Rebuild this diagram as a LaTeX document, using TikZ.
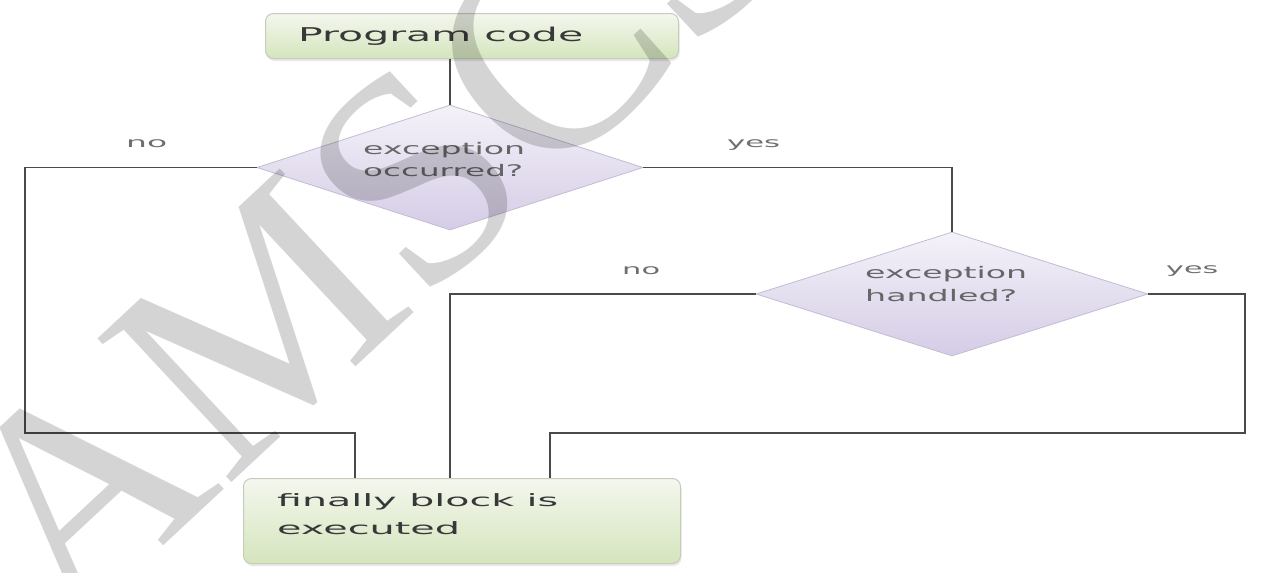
\documentclass[tikz,border=0pt]{standalone}
\usepackage{fontspec}
\setmainfont{DejaVu Sans}
\newfontfamily\wmfont{Liberation Serif}
\usetikzlibrary{shapes.geometric,shadows}
\newcommand{\wt}[2]{\resizebox{#1}{\height}{#2}}
\definecolor{boxtop}{HTML}{F4F7EE}
\definecolor{boxbot}{HTML}{D5E5BD}
\definecolor{boxedge}{HTML}{C4CCBA}
\definecolor{diatop}{HTML}{F4F2F9}
\definecolor{diabot}{HTML}{D5CCE6}
\definecolor{diaedge}{HTML}{C2BCD2}
\definecolor{linec}{HTML}{4A4A4A}
\definecolor{diatext}{HTML}{666666}
\definecolor{labtext}{HTML}{6E6E6E}
\definecolor{boxtext}{HTML}{383838}
\begin{document}
\begin{tikzpicture}[x=1pt,y=-1pt,
  box/.style={rectangle, rounded corners=8pt, draw=boxedge, line width=1pt,
    top color=boxtop, bottom color=boxbot, inner sep=0pt,
    drop shadow={opacity=0.18, shadow xshift=1pt, shadow yshift=-2.5pt}},
  dia/.style={diamond, draw=diaedge, line width=0.8pt, top color=diatop,
    bottom color=diabot, inner sep=0pt},
  conn/.style={draw=linec, line width=1.6pt},
  txt/.style={inner sep=0pt, anchor=base west},
  wm/.style={inner sep=0pt, text=black, text opacity=0.17, font=\wmfont}
]
\useasboundingbox (0,0) rectangle (1275,573);

% boxes
\node[box, anchor=north west, minimum width=413pt, minimum height=45pt] (prog) at (265,13) {};
\node[box, anchor=north west, minimum width=437pt, minimum height=85pt] (fin) at (243,478) {};
% diamonds
\node[dia, minimum width=386pt, minimum height=125pt] (d1) at (450,167.5) {};
\node[dia, minimum width=392pt, minimum height=124pt] (d2) at (952,294) {};

% corner coordinates
\coordinate (L1) at (25,167.5);
\coordinate (L2) at (25,433);
\coordinate (L3) at (355,433);
\coordinate (M1) at (450,294);
\coordinate (R1) at (1245,294);
\coordinate (R2) at (1245,433);
\coordinate (R3) at (550,433);

% connectors
\draw[conn] (prog.south -| d1.north) -- (d1.north);
\draw[conn] (d1.west) -- (L1) -- (L2) -- (L3) -- (fin.north -| L3);
\draw[conn] (d1.east) -| (d2.north);
\draw[conn] (d2.west) -- (M1) -- (fin.north -| M1);
\draw[conn] (d2.east) -- (R1) -- (R2) -- (R3) -- (fin.north -| R3);

% texts
\node[txt, text=boxtext] (tprog) at (298,41) {\fontsize{19}{23}\selectfont\wt{285pt}{Program code}};
\node[txt, text=diatext] (t1a) at (363,154) {\fontsize{16}{20}\selectfont\wt{162pt}{exception}};
\node[txt, text=diatext] (t1b) at (363,176) {\fontsize{16}{20}\selectfont\wt{160pt}{occurred?}};
\node[txt, text=diatext] (t2a) at (865,278) {\fontsize{16}{20}\selectfont\wt{162pt}{exception}};
\node[txt, text=diatext] (t2b) at (865,301) {\fontsize{16}{20}\selectfont\wt{152pt}{handled?}};
\node[txt, text=boxtext] (tfa) at (277,506) {\fontsize{17}{20}\selectfont\wt{281pt}{finally block is}};
\node[txt, text=boxtext] (tfb) at (277,534) {\fontsize{17}{20}\selectfont\wt{183pt}{executed}};
\node[txt, text=labtext] (no1) at (126,147) {\fontsize{14}{16}\selectfont\wt{41pt}{no}};
\node[txt, text=labtext] (yes1) at (727,147) {\fontsize{14}{16}\selectfont\wt{53pt}{yes}};
\node[txt, text=labtext] (no2) at (622,274) {\fontsize{14}{16}\selectfont\wt{38pt}{no}};
\node[txt, text=labtext] (yes2) at (1166,273) {\fontsize{14}{16}\selectfont\wt{52pt}{yes}};

% watermark
\node[wm, rotate=43, anchor=base west] (wmark) at (67,636) {\fontsize{300}{300}\selectfont AMSCS};
\end{tikzpicture}
\end{document}
